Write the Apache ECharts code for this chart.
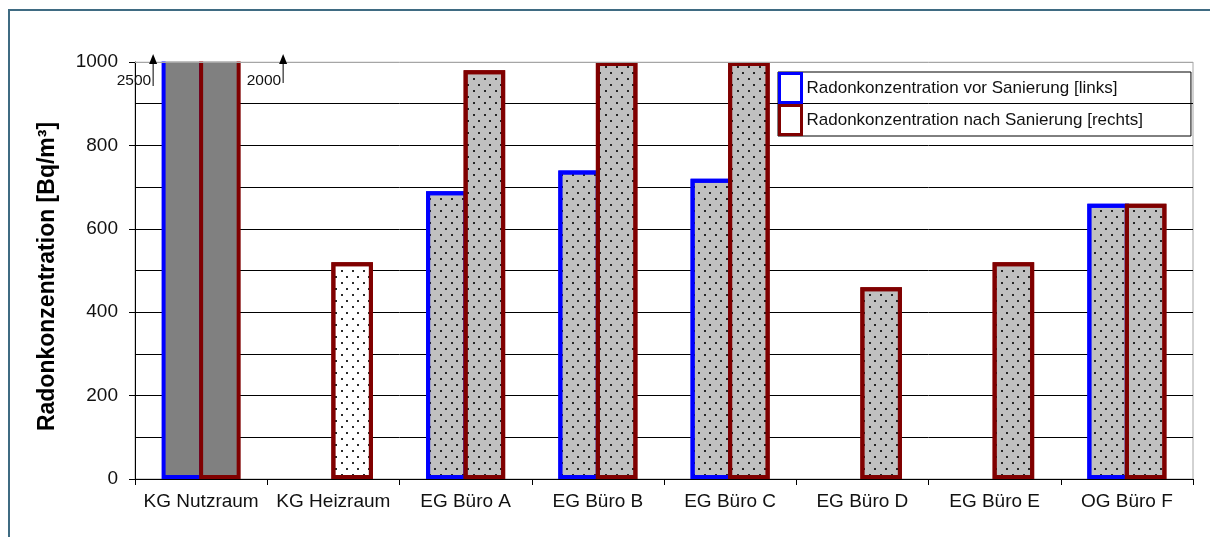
<!DOCTYPE html>
<html>
<head>
<meta charset="utf-8">
<script src="https://cdn.jsdelivr.net/npm/echarts@6/dist/echarts.min.js"></script>
<style>
  html, body { margin: 0; padding: 0; background: #fff; }
  #chart { width: 1210px; height: 537px; }
</style>
</head>
<body>
<div id="chart"></div>
<script>
// Radon concentration per room, before and after remediation (Bq/m³)
const rooms = ['KG Nutzraum', 'KG Heizraum', 'EG Büro A', 'EG Büro B', 'EG Büro C', 'EG Büro D', 'EG Büro E', 'OG Büro F'];
const vorSanierung = [2500, null, 690, 740, 720, null, null, 660];
const nachSanierung = [2000, 520, 980, 1000, 1000, 460, 520, 660];
const yTicks = [0, 200, 400, 600, 800, 1000];
const seriesNames = ['Radonkonzentration vor Sanierung [links]', 'Radonkonzentration nach Sanierung [rechts]'];
const yTitle = 'Radonkonzentration [Bq/m³]';

// fill kind per room: solid grey, white dotted, grey dotted
const fillKind = ['solid', 'white', 'dots', 'dots', 'dots', 'dots', 'dots', 'dots'];

const FONT = '"Liberation Sans", Arial, sans-serif';
const yMin = yTicks[0];
const yMax = yTicks[yTicks.length - 1];

function dotDecal() {
  return {
    symbol: 'rect',
    symbolSize: 1,
    color: 'rgba(20,20,20,0.9)',
    dashArrayX: [[1.5, 8.5], [0, 5, 1.5, 3.5]],
    dashArrayY: [1.5, 3.5],
    rotation: 0
  };
}

function styleFor(i, border) {
  const kind = fillKind[i];
  if (kind === 'solid') return { color: '#808080', borderColor: border };
  if (kind === 'white') return { color: '#ffffff', borderColor: border, decal: dotDecal() };
  return { color: '#c0c0c0', borderColor: border, decal: dotDecal() };
}

function buildData(values, border) {
  return values.map((v, i) => v == null ? null : { value: v, itemStyle: styleFor(i, border) });
}

const chart = echarts.init(document.getElementById('chart'), null, { renderer: 'canvas' });

const barCommon = {
  type: 'bar',
  barWidth: '31.4%',
  barGap: '-9.6%',
  clip: false
};

const option = {
  backgroundColor: '#ffffff',
  animation: false,
  grid: {
    left: 135, right: 17, top: 62, bottom: 58,
    show: true, borderColor: '#a6a6a6', borderWidth: 1, backgroundColor: 'transparent'
  },
  legend: {
    orient: 'vertical',
    left: 778, top: 72,
    padding: [0, 48, 0, 0],
    itemGap: 0,
    itemWidth: 22,
    itemHeight: 29,
    icon: 'rect',
    borderColor: '#000', borderWidth: 1,
    textStyle: { fontFamily: FONT, fontSize: 17, color: '#111' },
    data: [
      { name: seriesNames[0], itemStyle: { color: '#fff', borderColor: '#0000ff', borderWidth: 3 } },
      { name: seriesNames[1], itemStyle: { color: '#fff', borderColor: '#800000', borderWidth: 3 } }
    ],
    selectedMode: false,
    z: 60
  },
  xAxis: {
    type: 'category',
    data: rooms,
    boundaryGap: true,
    axisLine: { lineStyle: { color: '#000', width: 1 } },
    axisTick: { show: true, length: 6, inside: false, lineStyle: { color: '#000' } },
    axisLabel: { fontFamily: FONT, fontSize: 19, color: '#111', margin: 13, interval: 0 },
    splitLine: { show: false }
  },
  yAxis: {
    type: 'value',
    min: yMin, max: yMax, interval: yTicks[1] - yTicks[0],
    name: yTitle,
    nameLocation: 'middle',
    nameGap: 76,
    nameRotate: 90,
    nameTextStyle: { fontFamily: FONT, fontSize: 23, fontWeight: 'bold', color: '#000', padding: [0, 12, 0, 0] },
    axisLine: { show: true, lineStyle: { color: '#000', width: 1 } },
    axisTick: { show: true, length: 6, lineStyle: { color: '#000' } },
    axisLabel: { fontFamily: FONT, fontSize: 19, color: '#111', margin: 17, formatter: v => String(v) },
    splitLine: { show: true, showMaxLine: false, showMinLine: false, lineStyle: { color: '#000', width: 1 } },
    minorTick: { show: false, splitNumber: 2 },
    minorSplitLine: { show: true, lineStyle: { color: '#000', width: 1 } }
  },
  series: [
    Object.assign({
      name: seriesNames[0],
      itemStyle: { color: '#c0c0c0', borderColor: '#0000ff', borderWidth: 4 },
      data: buildData(vorSanierung, '#0000ff')
    }, barCommon),
    Object.assign({
      name: seriesNames[1],
      itemStyle: { color: '#c0c0c0', borderColor: '#800000', borderWidth: 4 },
      data: buildData(nachSanierung, '#800000')
    }, barCommon)
  ]
};

chart.setOption(option);

// Bars above the scale are cut at the top of the plot, and the first room gets
// upward arrows labelled with its true values.
function overflowMarks() {
  const rect = chart.getModel().getComponent('grid', 0).coordinateSystem.getRect();
  const p = chart.convertToPixel({ gridIndex: 0 }, [0, yMax]);
  const cx = p[0], top = p[1];
  const marks = [];
  // blank the band above the plot where off-scale bars would continue
  marks.push({
    type: 'rect', silent: true, z: 40,
    shape: { x: rect.x + 0.5, y: 0, width: rect.width + 20, height: rect.y - 0.5 },
    style: { fill: '#ffffff' }
  });
  const items = [
    { value: vorSanierung[0], dx: -48, shaftEnd: 24 },
    { value: nachSanierung[0], dx: 82, shaftEnd: 21 }
  ];
  items.forEach(it => {
    if (it.value == null || it.value <= yMax) return;
    const x = cx + it.dx;
    marks.push({
      type: 'line', silent: true, z: 100,
      shape: { x1: x, y1: top + it.shaftEnd, x2: x, y2: top },
      style: { stroke: '#000', lineWidth: 1 }
    });
    marks.push({
      type: 'polygon', silent: true, z: 100,
      shape: { points: [[x, top - 8], [x - 4, top + 2], [x + 4, top + 2]] },
      style: { fill: '#000' }
    });
    marks.push({
      type: 'text', silent: true, z: 100,
      x: x - 2, y: top + 19,
      style: {
        text: String(it.value), fontFamily: FONT, fontSize: 15.5, fill: '#111',
        align: 'right', verticalAlign: 'middle'
      }
    });
  });
  // plot border line along the top, kept above the blanking band
  marks.push({
    type: 'line', silent: true, z: 45,
    shape: { x1: rect.x, y1: rect.y + 0.5, x2: rect.x + rect.width, y2: rect.y + 0.5 },
    style: { stroke: '#a6a6a6', lineWidth: 1 }
  });
  // outer frame of the figure
  marks.push({
    type: 'rect', silent: true, z: 100,
    shape: { x: 9, y: 10, width: 1240, height: 600 },
    style: { fill: 'none', stroke: '#3f6b82', lineWidth: 2 }
  });
  chart.setOption({ graphic: marks });
}
overflowMarks();
</script>
</body>
</html>
